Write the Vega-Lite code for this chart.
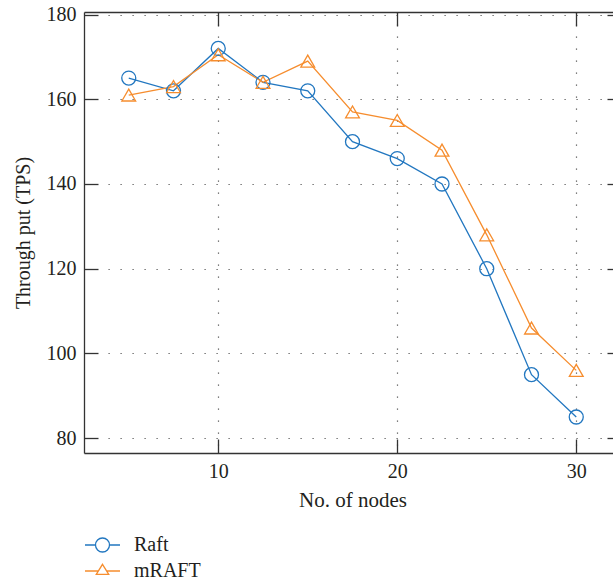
{
  "$schema": "https://vega.github.io/schema/vega-lite/v6.json",
  "width": 537,
  "height": 441,
  "autosize": {"type": "none"},
  "padding": {"left": 84, "top": 12, "right": 0, "bottom": 135},
  "background": "white",
  "config": {
    "view": {"stroke": null},
    "font": "Liberation Serif",
    "axis": {
      "labelFont": "Liberation Serif",
      "titleFont": "Liberation Serif",
      "labelFontSize": 20,
      "labelColor": "#231f20",
      "titleColor": "#231f20",
      "titleFontWeight": "normal",
      "domainColor": "#333333",
      "domainWidth": 1.3,
      "tickColor": "#333333",
      "tickWidth": 1.3,
      "tickSize": -14,
      "gridColor": "#555555",
      "gridWidth": 1.2,
      "gridDash": [1.2, 10.8],
      "labelFlush": false
    },
    "legend": {
      "orient": "none",
      "legendX": 3,
      "legendY": 517.5,
      "title": null,
      "padding": 0,
      "rowPadding": 0,
      "symbolSize": 841,
      "symbolStrokeWidth": 1.3,
      "symbolFillColor": "transparent",
      "symbolOpacity": 1,
      "labelFont": "Liberation Serif",
      "labelFontSize": 20,
      "labelColor": "#231f20",
      "labelOffset": 16
    }
  },
  "data": {
    "values": [
      {"nodes": 5, "protocol": "Raft", "tps": 165},
      {"nodes": 7.5, "protocol": "Raft", "tps": 162},
      {"nodes": 10, "protocol": "Raft", "tps": 172},
      {"nodes": 12.5, "protocol": "Raft", "tps": 164},
      {"nodes": 15, "protocol": "Raft", "tps": 162},
      {"nodes": 17.5, "protocol": "Raft", "tps": 150},
      {"nodes": 20, "protocol": "Raft", "tps": 146},
      {"nodes": 22.5, "protocol": "Raft", "tps": 140},
      {"nodes": 25, "protocol": "Raft", "tps": 120},
      {"nodes": 27.5, "protocol": "Raft", "tps": 95},
      {"nodes": 30, "protocol": "Raft", "tps": 85},
      {"nodes": 5, "protocol": "mRAFT", "tps": 161},
      {"nodes": 7.5, "protocol": "mRAFT", "tps": 163},
      {"nodes": 10, "protocol": "mRAFT", "tps": 170.5},
      {"nodes": 12.5, "protocol": "mRAFT", "tps": 164},
      {"nodes": 15, "protocol": "mRAFT", "tps": 169},
      {"nodes": 17.5, "protocol": "mRAFT", "tps": 157},
      {"nodes": 20, "protocol": "mRAFT", "tps": 155},
      {"nodes": 22.5, "protocol": "mRAFT", "tps": 148},
      {"nodes": 25, "protocol": "mRAFT", "tps": 128},
      {"nodes": 27.5, "protocol": "mRAFT", "tps": 106},
      {"nodes": 30, "protocol": "mRAFT", "tps": 96}
    ]
  },
  "layer": [
    {
      "mark": {"type": "line", "strokeWidth": 1.3},
      "encoding": {
        "x": {
          "field": "nodes", "type": "quantitative",
          "scale": {"domain": [2.5, 32.5], "nice": false, "zero": false},
          "axis": {
            "orient": "bottom", "values": [10, 20, 30], "grid": true,
            "labelPadding": 22, "title": "No. of nodes", "titleFontSize": 21,
            "titlePadding": 8
          }
        },
        "y": {
          "field": "tps", "type": "quantitative",
          "scale": {"domain": [76.5, 180.6], "nice": false, "zero": false},
          "axis": {
            "orient": "left", "values": [80, 100, 120, 140, 160, 180], "grid": true,
            "labelPadding": 22, "title": "Through put (TPS)", "titleFontSize": 20,
            "titlePadding": 13
          }
        },
        "color": {
          "field": "protocol", "type": "nominal",
          "scale": {"domain": ["Raft", "mRAFT"], "range": ["#2277c0", "#f68d2e"]}
        }
      }
    },
    {
      "transform": [{"filter": {"field": "protocol", "equal": "Raft"}}],
      "mark": {"type": "point", "shape": "circle", "filled": false, "size": 196, "strokeWidth": 1.3, "opacity": 1},
      "encoding": {
        "x": {
          "field": "nodes", "type": "quantitative",
          "axis": {"orient": "top", "values": [10, 20, 30], "grid": false, "labels": false, "title": null}
        },
        "y": {
          "field": "tps", "type": "quantitative",
          "axis": {"orient": "right", "values": [80, 100, 120, 140, 160, 180], "grid": false, "labels": false, "title": null}
        },
        "color": {"field": "protocol", "type": "nominal"}
      }
    },
    {
      "transform": [{"filter": {"field": "protocol", "equal": "mRAFT"}}],
      "mark": {"type": "point", "shape": "triangle-up", "filled": false, "size": 190, "strokeWidth": 1.3, "opacity": 1},
      "encoding": {
        "x": {"field": "nodes", "type": "quantitative", "axis": null},
        "y": {"field": "tps", "type": "quantitative", "axis": null},
        "color": {"field": "protocol", "type": "nominal"}
      }
    },
    {
      "mark": {"type": "point", "filled": false, "size": 841, "strokeWidth": 1.3, "opacity": 0},
      "encoding": {
        "x": {"field": "nodes", "type": "quantitative", "axis": null},
        "y": {"field": "tps", "type": "quantitative", "axis": null},
        "color": {"field": "protocol", "type": "nominal"},
        "shape": {
          "field": "protocol", "type": "nominal",
          "scale": {
            "domain": ["Raft", "mRAFT"],
            "range": [
              "M-1.207,0L-0.483,0M0.483,0L1.207,0M0.483,0A0.483,0.483,0,1,1,-0.483,0A0.483,0.483,0,1,1,0.483,0Z",
              "M-1.207,0L-0.287,0M0.287,0L1.207,0M0,-0.46L0.43,0.23L-0.43,0.23Z"
            ]
          }
        }
      }
    }
  ],
  "resolve": {
    "axis": {"x": "independent", "y": "independent"}
  }
}
